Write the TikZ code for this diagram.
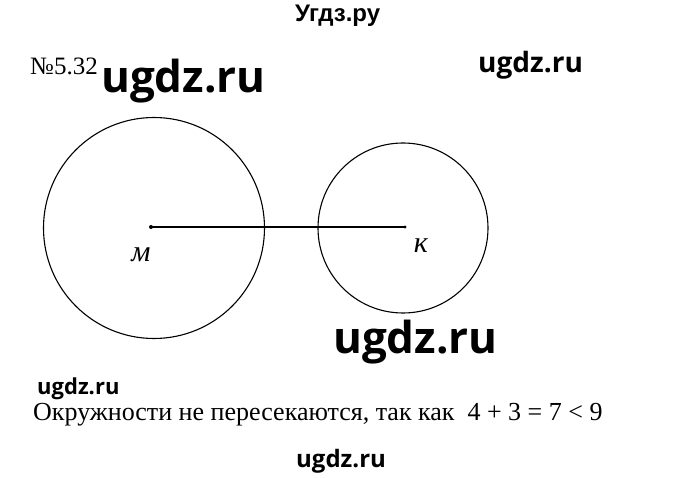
\documentclass[tikz,border=0pt]{standalone}
\usepackage{fontspec}
\setmainfont{Liberation Serif}
\newfontfamily\wmfont{Open Sans}
\newfontfamily\ttlfont{Liberation Sans}
\newfontfamily\serfont{Liberation Serif}
\begin{document}
\begin{tikzpicture}[x=1pt,y=-1pt,
  wm/.style={inner sep=0pt, anchor=base west},
  circ/.style={draw, line width=1.1pt},
  seg/.style={draw, line width=1.5pt},
  lbl/.style={font=\serfont\itshape\fontsize{30}{30}\selectfont, inner sep=0pt}]
\useasboundingbox (0,0) rectangle (680,478);
\fill[white] (0,0) rectangle (680,478);
% headings and watermarks
\node[wm, font=\ttlfont\bfseries\fontsize{24}{24}\selectfont] (title) at (295,22) {Угдз.ру};
\node[inner sep=0pt, anchor=base west, font=\serfont\fontsize{25}{25}\selectfont] (num) at (30,75) {№5.32};
\node[wm, font=\wmfont\bfseries\fontsize{44}{44}\selectfont] (w1) at (101,93) {ugdz.ru};
\node[wm, font=\wmfont\bfseries\fontsize{28}{28}\selectfont] (w2) at (478,73) {ugdz.ru};
\node[wm, font=\wmfont\bfseries\fontsize{44}{44}\selectfont] (w3) at (333,353) {ugdz.ru};
\node[wm, font=\wmfont\bfseries\fontsize{22}{22}\selectfont] (w4) at (37,394) {ugdz.ru};
\node[wm, font=\wmfont\bfseries\fontsize{24}{24}\selectfont] (w5) at (296,467) {ugdz.ru};
% circles
\node[circ, circle, minimum size=221pt, inner sep=0pt] (c1) at (154,228) {};
\node[circ, circle, minimum size=170pt, inner sep=0pt] (c2) at (403,228) {};
% centres and segment
\coordinate (M) at (151,227);
\coordinate (K) at (405,227);
\draw[seg] (M) -- (K);
\fill (M) circle (2pt);
\fill (K) circle (1.6pt);
\node[lbl] (lm) at (141,255) {м};
\node[lbl] (lk) at (421,246) {к};
% bottom text
\node[inner sep=0pt, anchor=base west, font=\serfont\fontsize{26}{26}\selectfont] (txt) at (33,420) {Окружности не пересекаются, так как\ \ 4 + 3 = 7 < 9};
\end{tikzpicture}
\end{document}
